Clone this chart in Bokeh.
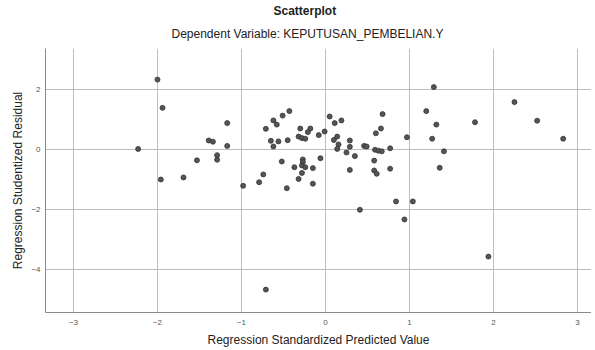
from bokeh.plotting import figure
from bokeh.models import Title, FixedTicker, Range1d
from bokeh.embed import file_html
from bokeh.resources import INLINE

# Regression Standardized Predicted Value (x) and Studentized Residual (y)
pred = [
    -2.00, -1.94, -2.23, -1.96, -1.69, -1.53, -1.39, -1.34, -1.29, -1.29,
    -1.17, -1.17, -0.98, -0.79, -0.74, -0.71, -0.65, -0.62, -0.62, -0.58,
    -0.51, -0.43, -0.56, -0.45, -0.30, -0.18, -0.21, -0.32, -0.28, -0.24,
    -0.08, -0.01, 0.05, 0.11, 0.19, 0.14, 0.10, 0.155, 0.14, 0.29,
    0.29, 0.25, 0.35, 0.46, 0.49, 0.59, 0.63, 0.67, 0.77, 0.60,
    0.66, 0.68, 0.97, -0.06, -0.52, -0.37, -0.27, -0.27, -0.28, -0.24,
    -0.15, -0.28, -0.32, -0.15, -0.46, 0.29, 0.58, 0.58, 0.61, 0.77,
    1.29, 1.20, 1.32, 1.78, 1.27, 1.41, 1.36, 2.25, 2.52, 2.83,
    0.41, 0.84, 1.04, 0.94, 1.94, -0.71,
]
resid = [
    2.33, 1.39, 0.02, -1.00, -0.93, -0.36, 0.30, 0.26, -0.19, -0.34,
    0.88, 0.12, -1.21, -1.09, -0.83, 0.69, 0.29, 0.10, 0.97, 0.83,
    1.13, 1.28, 0.27, 0.31, 0.70, 0.70, 0.58, 0.43, 0.38, 0.36,
    0.48, 0.60, 1.10, 0.88, 0.97, 0.43, 0.32, 0.17, 0.02, 0.30,
    0.09, -0.10, -0.22, 0.12, 0.10, -0.01, -0.04, -0.06, 0.04, 0.54,
    0.70, 1.18, 0.41, -0.29, -0.40, -0.59, -0.33, -0.42, -0.53, -0.59,
    -0.62, -0.78, -0.98, -1.14, -1.29, -0.68, -0.37, -0.70, -0.81, -0.64,
    2.08, 1.28, 0.83, 0.91, 0.36, -0.06, -0.61, 1.58, 0.96, 0.36,
    -2.01, -1.73, -1.73, -2.33, -3.57, -4.67,
]
x_ticks = [-3, -2, -1, 0, 1, 2, 3]
y_ticks = [-4, -2, 0, 2]
title_text = "Scatterplot"
subtitle_text = "Dependent Variable: KEPUTUSAN_PEMBELIAN.Y"
x_label = "Regression Standardized Predicted Value"
y_label = "Regression Studentized Residual"

FONT = "Liberation Sans"

p = figure(width=591, height=350, output_backend="svg", toolbar_location=None,
           x_range=Range1d(-3.333, 3.167), y_range=Range1d(-5.433, 3.367),
           min_border_left=45, min_border_right=0, min_border_top=48, min_border_bottom=38)
p.outline_line_color = None
p.background_fill_color = "white"
p.border_fill_color = "white"

sub = Title(text=subtitle_text, align="left",
            text_font=FONT, text_font_size="12px", text_font_style="normal",
            text_color="#222222", standoff=15, offset=126, text_line_height=0.8)
main = Title(text=title_text, align="left",
             text_font=FONT, text_font_size="12px", text_font_style="bold",
             text_color="#222222", standoff=0, offset=228, text_line_height=1.0)
p.add_layout(sub, "above")
p.add_layout(main, "above")

p.scatter(pred, resid, size=5, fill_color="#555555", line_color="#333333", line_width=0.8)

p.xaxis.ticker = FixedTicker(ticks=x_ticks)
p.yaxis.ticker = FixedTicker(ticks=y_ticks)
for ax in (p.xaxis[0], p.yaxis[0]):
    ax.axis_line_color = "#8a8a8a"
    ax.major_tick_line_color = None
    ax.minor_tick_line_color = None
    ax.major_tick_out = 0
    ax.major_tick_in = 0
    ax.major_label_text_font = FONT
    ax.major_label_text_font_size = "8px"
    ax.major_label_text_color = "#555555"
    ax.axis_label_text_font = FONT
    ax.axis_label_text_font_size = "12px"
    ax.axis_label_text_font_style = "normal"
    ax.axis_label_text_color = "#222222"
    ax.axis_label_text_line_height = 1.0
p.xaxis.axis_label = x_label
p.yaxis.axis_label = y_label
p.xaxis.major_label_standoff = 7
p.xaxis.axis_label_standoff = 5
p.yaxis.major_label_standoff = 5
p.yaxis.axis_label_standoff = 3

p.xgrid.grid_line_color = "#bdbdbd"
p.ygrid.grid_line_color = "#bdbdbd"

open("out.html", "w").write(file_html(p, INLINE))
